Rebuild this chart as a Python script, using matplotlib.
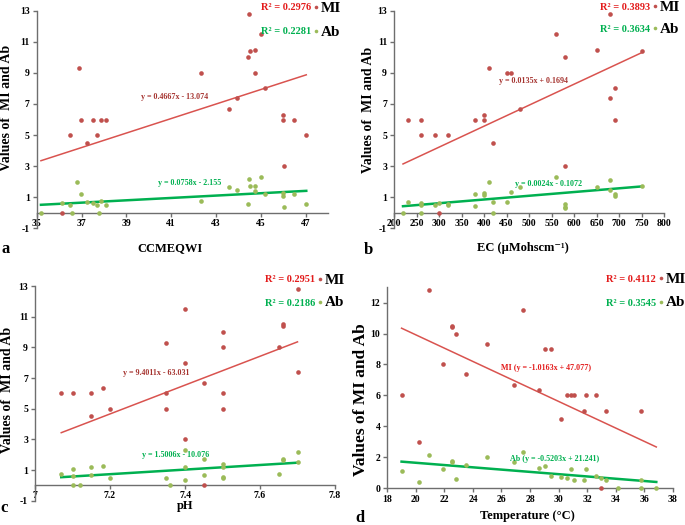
import numpy as np
import matplotlib
matplotlib.use("Agg")
import matplotlib.pyplot as plt
from matplotlib.lines import Line2D

plt.rcParams["font.family"] = ["Liberation Serif", "DejaVu Serif"]
plt.rcParams["font.weight"] = "bold"
plt.rcParams["axes.unicode_minus"] = False

# Panel a: CCMEQWI
a_mi_x = [36.13, 36.5, 36.87, 36.98, 37.23, 37.5, 37.7, 37.87, 38.1, 42.34, 43.56, 43.93,
          44.44, 44.48, 44.5, 44.73, 44.75, 45.0, 45.2, 45.97, 45.98, 46.03, 46.47, 47.03]
a_mi_y = [0, 5, 9.3, 6, 4.48, 6, 5, 6, 6, 9, 6.66, 7.38,
          10, 12.78, 10.4, 9, 10.48, 11.52, 8, 6.31, 6, 3, 6, 5]
a_ab_x = [35.19, 36.13, 36.49, 36.59, 36.81, 36.98, 37.23, 37.5, 37.7, 37.8, 37.87, 38.1,
          42.34, 43.56, 43.93, 44.44, 44.48, 44.5, 44.73, 44.75, 45.0, 45.2, 45.98, 45.98,
          46.03, 46.47, 47.03]
a_ab_y = [0, 0.65, 0.52, 0, 2.0, 1.2, 0.72, 0.6, 0.5, 0, 0.76, 0.47,
          0.76, 1.65, 1.48, 0.56, 2.16, 1.73, 1.69, 1.39, 2.3, 1.2, 1.27, 1.06,
          0.37, 1.2, 0.55]

# Panel b: EC
b_mi_x = [230, 260, 260, 290, 300, 320, 380, 400, 400, 410, 420, 450, 460, 480, 560, 580,
          580, 650, 680, 680, 690, 690, 750]
b_mi_y = [6, 6, 5, 5, 0, 5, 6, 6.3, 6, 9.3, 4.5, 9, 9, 6.66, 11.5, 10,
          3, 10.5, 12.78, 7.38, 8, 6, 10.4]
b_ab_x = [220, 230, 260, 260, 260, 290, 300, 320, 320, 380, 380, 400, 400, 410, 420, 420,
          450, 460, 480, 560, 580, 580, 580, 650, 680, 680, 690, 690, 750]
b_ab_y = [0, 0.72, 0.5, 0.6, 0, 0.5, 0.6, 0.5, 0.55, 1.2, 0.45, 1.25, 1.15, 2.0, 0.7, 0,
          0.72, 1.35, 1.65, 2.3, 0.55, 0.4, 0.3, 1.65, 2.1, 1.45, 1.2, 1.05, 1.7]

# Panel c: pH
c_mi_x = [7.07, 7.1, 7.15, 7.15, 7.18, 7.2, 7.35, 7.35, 7.35, 7.4, 7.4, 7.4, 7.45, 7.45,
          7.5, 7.5, 7.5, 7.5, 7.65, 7.66, 7.66, 7.7, 7.7]
c_mi_y = [6, 6, 6, 4.5, 6.33, 5, 9.3, 6, 5, 11.5, 8, 3, 6.67, 0,
          10, 9, 6, 5, 9, 10.5, 10.4, 12.78, 7.4]
c_ab_x = [7.07, 7.1, 7.1, 7.1, 7.12, 7.15, 7.15, 7.18, 7.2, 7.35, 7.36, 7.4, 7.4, 7.4,
          7.45, 7.45, 7.5, 7.5, 7.5, 7.5, 7.65, 7.66, 7.66, 7.7, 7.7]
c_ab_y = [0.75, 1.05, 0.6, 0, 0, 1.2, 0.7, 1.27, 0.5, 0.5, 0, 2.3, 1.2, 0.38,
          1.7, 0.65, 1.4, 1.2, 0.55, 0.5, 0.75, 1.75, 1.65, 2.15, 1.5]

# Panel d: temperature
d_mi_x = [19, 20.2, 20.9, 21.9, 22.5, 22.5, 22.8, 23.5, 25, 26.9, 27.5, 28.6, 29.05, 29.5,
          30.2, 30.6, 30.85, 31.1, 31.8, 31.95, 32.65, 33, 33.35, 35.75]
d_mi_y = [6, 3, 12.8, 8, 10.5, 10.4, 10, 7.4, 9.3, 6.66, 11.5, 6.33, 9, 9,
          4.5, 6, 6, 6, 5, 6, 6, 0, 5, 5]
d_ab_x = [19, 20.2, 20.9, 21.9, 22.5, 22.5, 22.8, 23.5, 25, 26.9, 27.5, 28.6, 29.05, 29.5,
          30.2, 30.6, 30.85, 31.1, 31.8, 31.95, 32.65, 33, 33.35, 34.2, 35.75, 35.75, 36.85]
d_ab_y = [1.1, 0.4, 2.15, 1.2, 1.75, 1.66, 0.6, 1.5, 2, 1.7, 2.3, 1.3, 1.4, 0.8,
          0.7, 0.65, 1.2, 0.5, 0.5, 1.2, 0.78, 0.65, 0.5, 0, 0.5, 0, 0]

# trendline (slope, intercept) as drawn
mi_fits = [(0.4667, -13.074), (0.0135, 0.1694), (9.4011, -63.031), (-0.431, 18.54)]
ab_fits = [(0.0758, -2.155), (0.0024, -0.1072), (1.5006, -10.076), (-0.0738, 3.11)]

mi_r2 = ["0.2976", "0.3893", "0.2951", "0.4112"]
ab_r2 = ["0.2281", "0.3634", "0.2186", "0.3545"]
mi_eq = ["y = 0.4667x - 13.074", "y = 0.0135x + 0.1694", "y = 9.4011x - 63.031",
         "MI (y = -1.0163x + 47.077)"]
ab_eq = ["y = 0.0758x - 2.155", "y = 0.0024x - 0.1072", "y = 1.5006x - 10.076",
         "Ab (y = -0.5203x + 21.241)"]
x_labels = ["CCMEQWI", "EC (µMohscm⁻¹)", "pH", "Temperature (°C)"]
y_labels = ["Values of  MI and Ab", "Values of  MI and Ab", "Values of  MI and Ab",
            "Values of MI and Ab"]
panel_tags = ["a", "b", "c", "d"]

RED_PT = "#C0504D"
GREEN_PT = "#9BBB59"
RED_LINE = "#D9534F"
GREEN_LINE = "#00B050"
RED_TXT = "#E31B1B"
RED_EQ = "#A5332F"
AXIS = "#6E6E6E"

W, H = 685, 525
fig = plt.figure(figsize=(W / 100, H / 100), dpi=100)


def px(x, y):
    return x / W, 1 - y / H


def make_axes(l, t, r, b):
    return fig.add_axes([l / W, 1 - b / H, (r - l) / W, (b - t) / H])


def dot(x, y, color):
    fx, fy = px(x, y)
    fig.add_artist(Line2D([fx], [fy], transform=fig.transFigure, marker="o", ms=2.6,
                          color=color, mec="none", ls="none"))


boxes = [(36.7, 10.7, 328, 228.3), (394, 10.7, 664, 228.3),
         (35, 286, 335, 500.7), (387.3, 287.3, 672.7, 488)]
xlims = [(35, 48), (200, 800), (7, 7.8), (18, 38)]
xticks = [np.arange(35, 48, 2), np.arange(200, 801, 50), [7, 7.2, 7.4, 7.6, 7.8],
          np.arange(18, 39, 2)]
xticklabels = [None, None, ["7", "7.2", "7.4", "7.6", "7.8"], None]
ylims = [(-1, 13), (-1, 13), (-1, 13), (0, 13)]
yticks = [np.arange(-1, 14, 2)] * 3 + [np.arange(0, 13, 2)]
data = [(a_mi_x, a_mi_y, a_ab_x, a_ab_y), (b_mi_x, b_mi_y, b_ab_x, b_ab_y),
        (c_mi_x, c_mi_y, c_ab_x, c_ab_y), (d_mi_x, d_mi_y, d_ab_x, d_ab_y)]

# text placement in pixels (x, y from top)
ylab_pos = [(7, 108), (369, 110), (8, 390), (361, 400)]
ylab_size = [10, 10, 10, 12.5]
xlab_pos = [(170, 248), (523, 248), (185, 506), (527, 516)]
tag_pos = [(6, 249), (368, 250), (4, 508), (360, 518)]
r2_left = [261, 600, 265, 606]
r2_rows = [(8, 32), (7.5, 29.5), (280, 303), (279.5, 303)]
mi_eq_pos = [(175, 96.5), (533, 81.5), (156, 373), (546, 368)]
ab_eq_pos = [(190, 183), (549, 184), (176, 455), (555, 459)]

for i in range(4):
    ax = make_axes(*boxes[i])
    mx, my, bx, by = data[i]
    ax.scatter(mx, my, s=11, color=RED_PT, linewidths=0, zorder=3, clip_on=False)
    ax.scatter(bx, by, s=11, color=GREEN_PT, linewidths=0, zorder=3, clip_on=False)
    xs = np.array([min(min(mx), min(bx)), max(max(mx), max(bx))])
    ax.plot(xs, mi_fits[i][0] * xs + mi_fits[i][1], color=RED_LINE, lw=1.1, zorder=2)
    ax.plot(xs, ab_fits[i][0] * xs + ab_fits[i][1], color=GREEN_LINE, lw=1.8, zorder=2)

    ax.set_xlim(*xlims[i])
    ax.set_ylim(*ylims[i])
    ax.set_yticks(yticks[i])
    ax.set_xticks(xticks[i])
    for s in ["top", "right"]:
        ax.spines[s].set_visible(False)
    for s in ["left", "bottom"]:
        ax.spines[s].set_color(AXIS)
        ax.spines[s].set_linewidth(1.0)
    ax.tick_params(axis="both", length=3, width=1, color=AXIS, labelsize=7, pad=2)

    if i < 3:
        # axis line at zero, tick labels kept near the bottom
        ax.spines["bottom"].set_position(("data", 0))
        ax.tick_params(axis="x", labelbottom=False)
        sec = ax.secondary_xaxis(0.05)
        sec.spines["bottom"].set_visible(False)
        sec.set_xticks(xticks[i])
        if xticklabels[i]:
            sec.set_xticklabels(xticklabels[i])
        sec.tick_params(length=0, labelsize=7, pad=1)
    elif xticklabels[i]:
        ax.set_xticklabels(xticklabels[i])

    fig.text(*px(*ylab_pos[i]), y_labels[i], rotation=90, ha="center", va="center",
             fontsize=ylab_size[i])
    fig.text(*px(*xlab_pos[i]), x_labels[i], ha="center", va="center", fontsize=9)
    fig.text(*px(*tag_pos[i]), panel_tags[i], ha="center", va="center", fontsize=12)

    l = r2_left[i]
    ymi, yab = r2_rows[i]
    fig.text(*px(l, ymi), "R² = " + mi_r2[i], color=RED_TXT, ha="left", va="center",
             fontsize=7.5)
    fig.text(*px(l, yab), "R² = " + ab_r2[i], color=GREEN_LINE, ha="left", va="center",
             fontsize=7.5)
    dot(l + 55, ymi - 1.5, RED_PT)
    dot(l + 55, yab - 1.5, GREEN_PT)
    fig.text(*px(l + 60, ymi), "MI", color="black", ha="left", va="center", fontsize=11)
    fig.text(*px(l + 60, yab), "Ab", color="black", ha="left", va="center", fontsize=11)

    fig.text(*px(*mi_eq_pos[i]), mi_eq[i], color=RED_EQ if i < 3 else RED_TXT,
             ha="center", va="center", fontsize=5.8)
    fig.text(*px(*ab_eq_pos[i]), ab_eq[i], color=GREEN_LINE, ha="center", va="center",
             fontsize=5.8)

fig.savefig("out.png", dpi=100)
